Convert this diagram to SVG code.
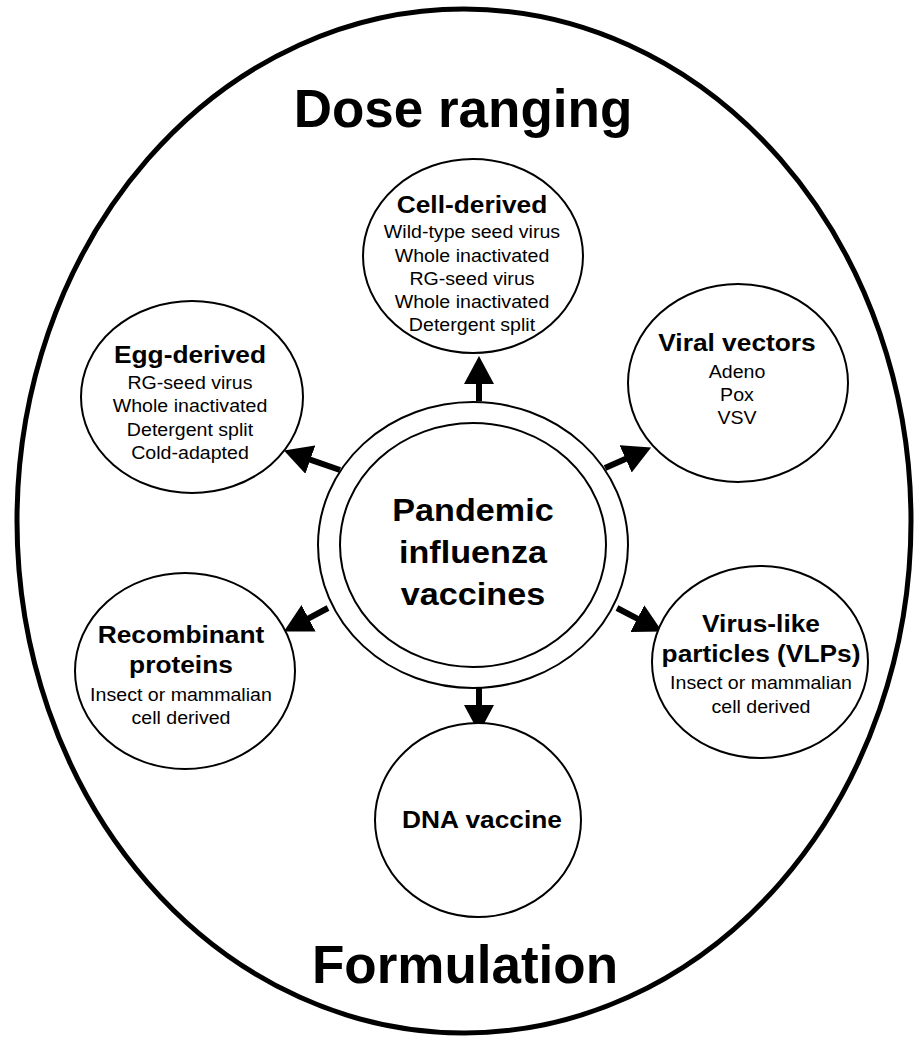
<svg xmlns="http://www.w3.org/2000/svg" width="923" height="1050" viewBox="0 0 923 1050">
<style>
.node{fill:#fff;stroke:#000;stroke-width:2}
.title{font-family:"Liberation Sans",Arial,sans-serif;font-weight:bold;font-size:53px;text-anchor:middle;fill:#000}
.b{font-family:"Liberation Sans",Arial,sans-serif;font-weight:bold;font-size:23.5px;text-anchor:middle;fill:#000}
.r{font-family:"Liberation Sans",Arial,sans-serif;font-size:17.5px;text-anchor:middle;fill:#000}
.c{font-family:"Liberation Sans",Arial,sans-serif;font-weight:bold;font-size:30.5px;text-anchor:middle;fill:#000}
.arrow{stroke:#000;stroke-width:6;fill:none;marker-end:url(#head)}
</style>
<defs>
<marker id="head" markerUnits="userSpaceOnUse" viewBox="0 0 28 30" markerWidth="28" markerHeight="30" refX="1" refY="15" orient="auto">
<path d="M0,0 L28,15 L0,30 z" fill="#000"/>
</marker>
</defs>
<rect width="923" height="1050" fill="#fff"/>
<g id="frame">
<ellipse cx="464" cy="521" rx="447" ry="512" fill="none" stroke="#000" stroke-width="5"/>
<text class="title" x="463" y="127">Dose ranging</text>
<text class="title" x="465" y="983">Formulation</text>
</g>
<g id="connectors">
<line class="arrow" x1="479" y1="401" x2="479" y2="383"/>
<line class="arrow" x1="479" y1="688" x2="479" y2="706"/>
<line class="arrow" x1="340" y1="470" x2="309.4" y2="459.3"/>
<line class="arrow" x1="605" y1="468" x2="626.5" y2="458.4"/>
<line class="arrow" x1="328" y1="608" x2="307.7" y2="618.8"/>
<line class="arrow" x1="617" y1="608" x2="638.2" y2="619.1"/>
</g>
<g id="center">
<ellipse class="node" cx="473" cy="545" rx="155" ry="143"/>
<ellipse class="node" cx="473" cy="545" rx="133" ry="122"/>
<g transform="matrix(1.12,0,0,1,-56.76,0)">
<text class="c" x="473" y="521">Pandemic</text>
<text class="c" x="473" y="563">influenza</text>
<text class="c" x="473" y="605">vaccines</text>
</g>
</g>
<g id="cell-derived">
<ellipse class="node" cx="473" cy="256" rx="110" ry="97"/>
<g transform="matrix(1.12,0,0,1,-56.64,0)">
<text class="b" x="472" y="213">Cell-derived</text>
<text class="r" x="472" y="238">Wild-type seed virus</text>
<text class="r" x="472" y="262">Whole inactivated</text>
<text class="r" x="472" y="285">RG-seed virus</text>
<text class="r" x="472" y="308">Whole inactivated</text>
<text class="r" x="472" y="331">Detergent split</text>
</g>
</g>
<g id="egg-derived">
<ellipse class="node" cx="192" cy="397" rx="111" ry="96"/>
<g transform="matrix(1.12,0,0,1,-22.8,0)">
<text class="b" x="190" y="363">Egg-derived</text>
<text class="r" x="190" y="389">RG-seed virus</text>
<text class="r" x="190" y="412">Whole inactivated</text>
<text class="r" x="190" y="436">Detergent split</text>
<text class="r" x="190" y="459">Cold-adapted</text>
</g>
</g>
<g id="viral-vectors">
<ellipse class="node" cx="738" cy="383" rx="110" ry="99"/>
<g transform="matrix(1.12,0,0,1,-88.44,0)">
<text class="b" x="737" y="351">Viral vectors</text>
<text class="r" x="737" y="378">Adeno</text>
<text class="r" x="737" y="401">Pox</text>
<text class="r" x="737" y="424">VSV</text>
</g>
</g>
<g id="recombinant-proteins">
<ellipse class="node" cx="185" cy="671" rx="110" ry="98"/>
<g transform="matrix(1.12,0,0,1,-21.72,0)">
<text class="b" x="181" y="643">Recombinant</text>
<text class="b" x="181" y="673">proteins</text>
<text class="r" x="181" y="701">Insect or mammalian</text>
<text class="r" x="181" y="724">cell derived</text>
</g>
</g>
<g id="vlps">
<ellipse class="node" cx="760" cy="662" rx="108" ry="96"/>
<g transform="matrix(1.12,0,0,1,-91.32,0)">
<text class="b" x="761" y="632">Virus-like</text>
<text class="b" x="761" y="662">particles (VLPs)</text>
<text class="r" x="761" y="689">Insect or mammalian</text>
<text class="r" x="761" y="713">cell derived</text>
</g>
</g>
<g id="dna-vaccine">
<ellipse class="node" cx="478" cy="820" rx="103" ry="97"/>
<g transform="matrix(1.12,0,0,1,-57.84,0)">
<text class="b" x="482" y="828">DNA vaccine</text>
</g>
</g>
</svg>
